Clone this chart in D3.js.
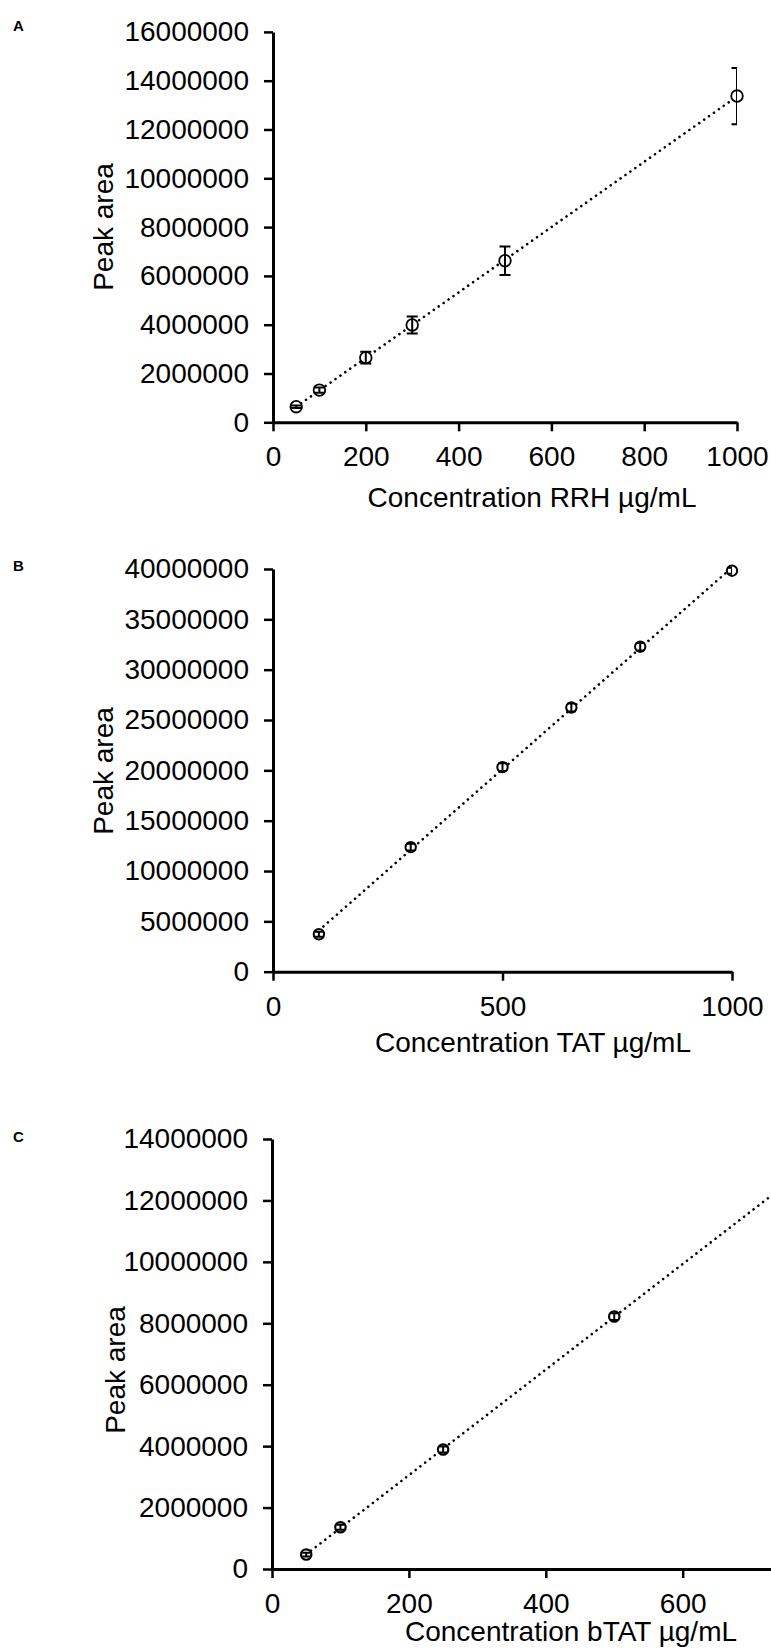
<!DOCTYPE html>
<html>
<head>
<meta charset="utf-8">
<script src="https://cdn.jsdelivr.net/npm/d3@7"></script>
<style>
  html, body { margin: 0; padding: 0; background: #fff; }
  svg { display: block; }
  text { font-family: "Liberation Sans", Arial, Helvetica, sans-serif; fill: #000; }
</style>
</head>
<body>
<svg id="chart" width="771" height="1648"></svg>
<script>
// Calibration curves: peak area (mean ± SD) versus concentration in µg/mL

// Panel A – RRH
const rrhConc = [50, 100, 200, 300, 500, 1000];
const rrhArea = [640000, 1320000, 2650000, 3990000, 6620000, 13370000];
const rrhSd   = [50000, 110000, 240000, 350000, 580000, 1150000];
const rrhXTicks = [0, 200, 400, 600, 800, 1000];
const rrhYTicks = [0, 2000000, 4000000, 6000000, 8000000, 10000000, 12000000, 14000000, 16000000];

// Panel B – TAT
const tatConc = [100, 300, 500, 650, 800, 1000];
const tatArea = [3720000, 12370000, 20320000, 26240000, 32280000, 39830000];
const tatSd   = [250000, 330000, 380000, 400000, 380000, 300000];
const tatXTicks = [0, 500, 1000];
const tatYTicks = [0, 5000000, 10000000, 15000000, 20000000, 25000000, 30000000, 35000000, 40000000];

// Panel C – bTAT
const btatConc = [50, 100, 250, 500];
const btatArea = [470000, 1360000, 3890000, 8220000];
const btatSd   = [60000, 80000, 100000, 110000];
const btatXTicks = [0, 200, 400, 600];
const btatYTicks = [0, 2000000, 4000000, 6000000, 8000000, 10000000, 12000000, 14000000];

const svg = d3.select("#chart");

// Least-squares straight line through a series
function linearFit(xs, ys) {
  const mx = d3.mean(xs), my = d3.mean(ys);
  let sxy = 0, sxx = 0;
  xs.forEach((x, i) => { sxy += (x - mx) * (ys[i] - my); sxx += (x - mx) * (x - mx); });
  const slope = sxy / sxx;
  return { slope, intercept: my - slope * mx };
}

function drawPanel(p) {
  const x = d3.scaleLinear().domain([0, p.xMax]).range([p.left, p.right]);
  const y = d3.scaleLinear().domain([0, p.yMax]).range([p.bottom, p.top]);
  const g = svg.append("g");

  const clipId = "clip-" + p.id;
  svg.append("clipPath").attr("id", clipId)
    .append("rect")
    .attr("x", p.left).attr("y", p.top - 40)
    .attr("width", p.right - p.left).attr("height", p.bottom - p.top + 80);

  // panel letter
  g.append("text")
    .attr("x", p.letterX).attr("y", p.letterY)
    .attr("font-size", 15).attr("font-weight", "bold")
    .text(p.letter);

  // y axis
  const yAxis = g.append("g")
    .attr("transform", `translate(${p.left},0)`)
    .call(d3.axisLeft(y).tickValues(p.yTicks).tickSize(9).tickSizeOuter(0)
      .tickPadding(15).tickFormat(d3.format("d")));
  // x axis
  const xAxis = g.append("g")
    .attr("transform", `translate(0,${p.bottom})`)
    .call(d3.axisBottom(x).tickValues(p.xTicks).tickSize(9).tickSizeOuter(0)
      .tickPadding(15).tickFormat(d3.format("d")));

  [yAxis, xAxis].forEach(a => {
    a.select(".domain").attr("stroke", "#000").attr("stroke-width", 3);
    a.selectAll(".tick line").attr("stroke", "#000").attr("stroke-width", 2.5);
    a.selectAll(".tick text").attr("font-size", 28).attr("fill", "#000")
      .style("font-family", "'Liberation Sans', Arial, sans-serif");
  });

  // axis titles
  g.append("text")
    .attr("transform", `translate(${p.yTitleX},${p.yTitleY}) rotate(-90)`)
    .attr("text-anchor", "middle").attr("font-size", 28)
    .text("Peak area");
  g.append("text")
    .attr("x", p.xTitleX).attr("y", p.xTitleY)
    .attr("text-anchor", "middle").attr("font-size", 28)
    .text(p.xTitle);

  // dotted linear trendline
  const fit = linearFit(p.conc, p.area);
  const x0 = d3.min(p.conc), x1 = p.trendEnd;
  g.append("line")
    .attr("x1", x(x0)).attr("y1", y(fit.slope * x0 + fit.intercept))
    .attr("x2", x(x1)).attr("y2", y(fit.slope * x1 + fit.intercept))
    .attr("stroke", "#000").attr("stroke-width", 2.6)
    .attr("stroke-linecap", "round").attr("stroke-dasharray", "0.01,6");

  const pts = p.conc.map((c, i) => ({ c, a: p.area[i], sd: p.sd[i] }));

  // open circle markers
  g.selectAll(null).data(pts).join("circle")
    .attr("cx", d => x(d.c)).attr("cy", d => y(d.a))
    .attr("r", p.r).attr("fill", "#fff")
    .attr("stroke", "#000").attr("stroke-width", p.markerStroke);

  // error bars, clipped to the plot area
  const eb = g.append("g").attr("clip-path", `url(#${clipId})`)
    .attr("stroke", "#000").attr("stroke-width", 2).attr("fill", "none");
  const cap = p.cap;
  eb.selectAll(null).data(pts).join("path")
    .attr("d", d => {
      const cx = x(d.c), yt = y(d.a + d.sd), yb = y(d.a - d.sd);
      return `M${cx},${yt}V${yb}M${cx - cap},${yt}H${cx + cap}M${cx - cap},${yb}H${cx + cap}`;
    });
}

drawPanel({
  id: "a", letter: "A", letterX: 13, letterY: 30.5,
  conc: rrhConc, area: rrhArea, sd: rrhSd, xTicks: rrhXTicks, yTicks: rrhYTicks,
  xMax: 1000, yMax: 16000000, trendEnd: 1000,
  left: 273, right: 737, top: 31.9, bottom: 422.3,
  yTitleX: 113, yTitleY: 227, xTitleX: 532, xTitleY: 507,
  xTitle: "Concentration RRH µg/mL", r: 5.8, markerStroke: 1.8, cap: 5.5
});

drawPanel({
  id: "b", letter: "B", letterX: 13, letterY: 570.5,
  conc: tatConc, area: tatArea, sd: tatSd, xTicks: tatXTicks, yTicks: tatYTicks,
  xMax: 1000, yMax: 40000000, trendEnd: 1000,
  left: 273, right: 732, top: 569, bottom: 971.7,
  yTitleX: 113, yTitleY: 771, xTitleX: 533, xTitleY: 1052,
  xTitle: "Concentration TAT  µg/mL", r: 5.2, markerStroke: 2, cap: 4
});

drawPanel({
  id: "c", letter: "C", letterX: 13, letterY: 1141.5,
  conc: btatConc, area: btatArea, sd: btatSd, xTicks: btatXTicks, yTicks: btatYTicks,
  xMax: 800, yMax: 14000000, trendEnd: 800,
  left: 272, right: 819.6, top: 1139, bottom: 1569,
  yTitleX: 125, yTitleY: 1370, xTitleX: 571, xTitleY: 1641,
  xTitle: "Concentration bTAT  µg/mL", r: 5.2, markerStroke: 2.2, cap: 4
});
</script>
</body>
</html>
